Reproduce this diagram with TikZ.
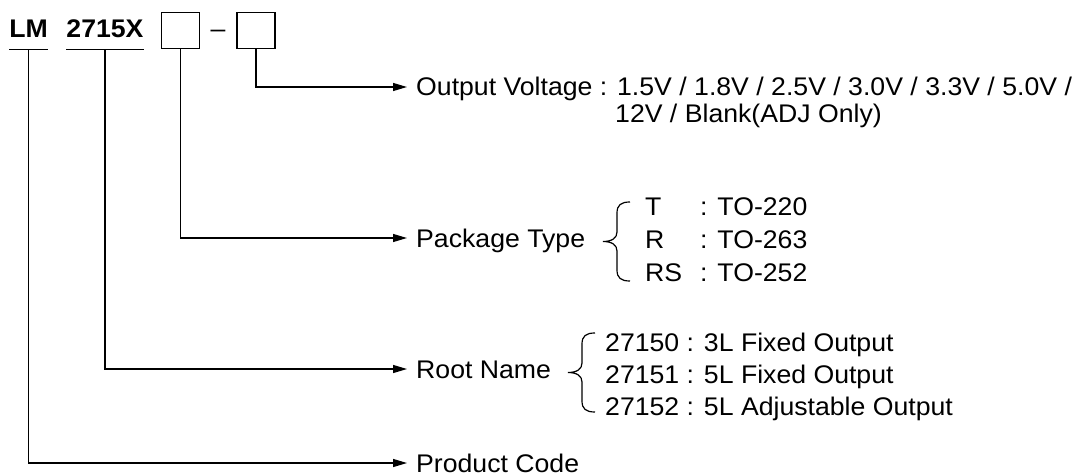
\documentclass[tikz,border=0pt]{standalone}
\usepackage{fontspec}
\setmainfont[FakeStretch=1.045]{Liberation Sans}
\usetikzlibrary{arrows.meta}

\begin{document}
\begin{tikzpicture}
	[x=1pt, y=-1pt,
	every node/.style={font=\fontsize{25.5}{30}\selectfont, inner sep=0pt},
	part/.style={font=\fontsize{25.5}{30}\selectfont\bfseries, anchor=base,
		inner ysep=11pt, text depth=0pt},
	slot/.style={draw, line width=1.2pt, minimum width=38pt, minimum height=36pt},
	desc/.style={anchor=base west, text height=18pt, text depth=0pt},
	feed/.style={draw, line width=1.2pt, -{Triangle[length=14pt,width=8pt]},
		shorten >=9pt},
	]
	\useasboundingbox (0,0) rectangle (1079,476);
	
	% part number
	\node[part] (lm) at (28.5,38) {LM};
	\node[part] (code) at (105,38) {2715X};
	\node[slot] (boxa) at (180.5,30.5) {};
	\node[anchor=base] (dash) at (218,38) {–};
	\node[slot] (boxb) at (256,30.5) {};
	\draw[line width=1.2pt] (lm.south west) -- (lm.south east);
	\draw[line width=1.2pt] (code.south west) -- (code.south east);
	
	% descriptions
	\node[desc] (volt) at (416,96) {Output Voltage : 1.5V / 1.8V / 2.5V / 3.0V / 3.3V / 5.0V /};
	\node[desc] (voltmore) at (615,123) {12V / Blank(ADJ Only)};
	\node[desc] (pack) at (416,247) {Package Type};
	\node[desc] (root) at (416,378) {Root Name};
	\node[desc] (prod) at (416,472) {Product Code};
	
	\foreach \letter/\pkg [count=\i] in {T/220, R/263, RS/252} {
		\node[desc] (pk\i) at (645,182+33*\i) {\letter};
		\node[desc] (pkto\i) at (700,182+33*\i) {: TO-\pkg};
	}
	\foreach \txt [count=\i] in {27150 : 3L Fixed Output, 27151 : 5L Fixed Output,
		27152 : 5L Adjustable Output}
		\node[desc] (rt\i) at (605,319+32*\i) {\txt};
	
	% braces
	\foreach \bx/\by in {603/202, 568/333}
		\draw[line width=1.2pt, shift={(\bx,\by)}] (27,0) .. controls (18,0) and (14,3) .. (14,11)
			-- (14,30) .. controls (14,36) and (9,39.5) .. (0,39.5)
			.. controls (9,39.5) and (14,43) .. (14,49)
			-- (14,68) .. controls (14,76) and (18,79) .. (27,79);
	
	% connectors
	\draw[feed] (lm.south) |- (prod.west);
	\draw[feed] (code.south) |- (root.west);
	\draw[feed] (boxa.south) |- (pack.west);
	\draw[feed] (boxb.south) |- (volt.west);
	
\end{tikzpicture}
\end{document}
